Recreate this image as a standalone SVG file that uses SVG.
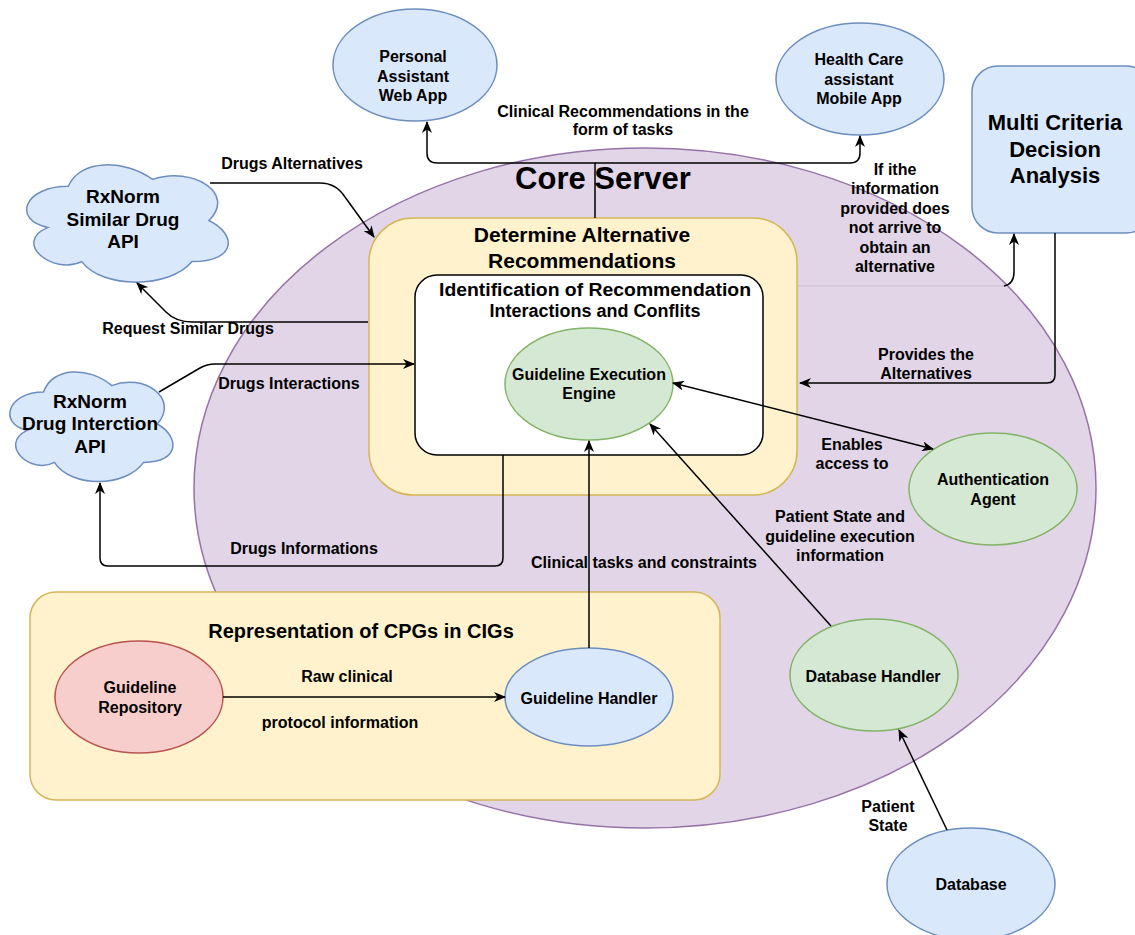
<svg xmlns="http://www.w3.org/2000/svg" width="1135" height="935" viewBox="0 0 1135 935">
  <style>
    .t { font-family: "Liberation Sans", Arial, sans-serif; font-weight: bold; font-size: 16px; text-anchor: middle; fill: #000; }
    .big { font-size: 21px; }
    .cloudtxt { font-size: 19px; }
    .blue { fill: #dae8fc; stroke: #6c8ebf; stroke-width: 1.5; }
    .green { fill: #d5e8d4; stroke: #82b366; stroke-width: 1.5; }
    .red { fill: #f8cecc; stroke: #b85450; stroke-width: 1.5; }
    .yellow { fill: #fff2cc; stroke: #d6b656; stroke-width: 1.5; }
    .purple { fill: #e1d5e7; stroke: #9673a6; stroke-width: 1.5; }
    .edge { fill: none; stroke: #000; stroke-width: 1.5; }
    .arrow { marker-end: url(#head); }
    .both { marker-start: url(#head); marker-end: url(#head); }
    .faint { fill: none; stroke: #cdbfd2; stroke-width: 1; }
  </style>
  <defs>
    <marker id="head" viewBox="0 0 12 10" refX="11" refY="5" markerWidth="12" markerHeight="10" markerUnits="userSpaceOnUse" orient="auto-start-reverse">
      <path d="M0,0 L12,5 L0,10 L3.5,5 Z" fill="#000"/>
    </marker>
  </defs>

  <rect width="1135" height="935" fill="#fff"/>

  <!-- container: core server -->
  <g id="core-server">
    <ellipse class="purple" cx="645" cy="488" rx="451" ry="340"/>
    <text class="t" x="603" y="189" style="font-size:31px">Core Server</text>
  </g>

  <!-- container: representation of CPGs -->
  <g id="representation">
    <rect class="yellow" x="30" y="592" width="690" height="208" rx="26"/>
    <text class="t big" x="361" y="638" style="font-size:20px">Representation of CPGs in CIGs</text>
  </g>

  <!-- container: determine alternative recommendations -->
  <g id="determine-alternatives">
    <rect class="yellow" x="369" y="218" width="428" height="277" rx="44"/>
    <text class="t big" x="582" y="242">Determine Alternative</text>
    <text class="t big" x="582" y="268">Recommendations</text>
  </g>

  <!-- container: identification of interactions -->
  <g id="identification">
    <rect x="415" y="275" width="348" height="180" rx="22" fill="#fff" stroke="#000" stroke-width="1.5"/>
    <text class="t" x="595" y="296" style="font-size:18px" textLength="312" lengthAdjust="spacingAndGlyphs">Identification of Recommendation</text>
    <text class="t" x="595" y="317" style="font-size:18px">Interactions and Conflits</text>
  </g>

  <g id="guideline-execution-engine">
    <ellipse class="green" cx="589" cy="384" rx="84" ry="56"/>
    <text class="t" x="589" y="380">Guideline Execution</text>
    <text class="t" x="589" y="399">Engine</text>
  </g>

  <g id="personal-assistant">
    <ellipse class="blue" cx="415" cy="65" rx="82" ry="56"/>
    <text class="t" x="413" y="62">Personal</text>
    <text class="t" x="413" y="82">Assistant</text>
    <text class="t" x="413" y="101">Web App</text>
  </g>

  <g id="health-care-assistant">
    <ellipse class="blue" cx="860" cy="79" rx="84" ry="56"/>
    <text class="t" x="859" y="65">Health Care</text>
    <text class="t" x="859" y="85">assistant</text>
    <text class="t" x="859" y="104">Mobile App</text>
  </g>

  <g id="multi-criteria">
    <rect class="blue" x="972" y="66" width="180" height="167" rx="26"/>
    <text class="t" x="1055" y="130" style="font-size:22px">Multi Criteria</text>
    <text class="t" x="1055" y="157" style="font-size:22px">Decision</text>
    <text class="t" x="1055" y="183" style="font-size:22px">Analysis</text>
  </g>

  <g id="rxnorm-similar">
    <path class="blue" d="M68.3,186.3 C23.3,186.3 12,220.5 48,227.4 C12,242.4 52.5,275.3 81.8,261.6 C102,289 169.5,289 192,261.6 C237,261.6 237,234.2 208.9,220.5 C237,193.1 192,165.7 152.6,179.4 C124.5,158.9 79.5,158.9 68.3,186.3 Z"/>
    <text class="t cloudtxt" x="123" y="203">RxNorm</text>
    <text class="t cloudtxt" x="123" y="226">Similar Drug</text>
    <text class="t cloudtxt" x="123" y="248">API</text>
  </g>

  <g id="rxnorm-interaction">
    <path class="blue" d="M43.5,392 C7.1,392 -2,424 27.1,430.4 C-2,444.5 30.8,475.2 54.4,462.4 C70.8,488 125.4,488 143.6,462.4 C180,462.4 180,436.8 157.3,424 C180,398.4 143.6,372.8 111.8,385.6 C89,366.4 52.6,366.4 43.5,392 Z"/>
    <text class="t cloudtxt" x="90" y="408">RxNorm</text>
    <text class="t cloudtxt" x="90" y="430">Drug Interction</text>
    <text class="t cloudtxt" x="90" y="453">API</text>
  </g>

  <g id="authentication-agent">
    <ellipse class="green" cx="993" cy="489" rx="84" ry="56"/>
    <text class="t" x="993" y="485">Authentication</text>
    <text class="t" x="993" y="505">Agent</text>
  </g>

  <g id="database-handler">
    <ellipse class="green" cx="874" cy="675" rx="84" ry="56"/>
    <text class="t" x="873" y="682">Database Handler</text>
  </g>

  <g id="guideline-repository">
    <ellipse class="red" cx="139" cy="697" rx="84" ry="56"/>
    <text class="t" x="140" y="693">Guideline</text>
    <text class="t" x="140" y="713">Repository</text>
  </g>

  <g id="guideline-handler">
    <ellipse class="blue" cx="589" cy="697" rx="84" ry="49"/>
    <text class="t" x="589" y="704">Guideline Handler</text>
  </g>

  <g id="database">
    <ellipse class="blue" cx="971" cy="884" rx="84" ry="56"/>
    <text class="t" x="971" y="890">Database</text>
  </g>

  <!-- connectors -->
  <g id="connectors">
    <path class="edge arrow" d="M595,218 V163 H437 Q427,163 427,153 V122"/>
    <path class="edge arrow" d="M595,163 H850 Q860,163 860,153 V136"/>
    <path class="edge arrow" d="M210,183 H320 Q336,183 345,197 L374,237"/>
    <path class="edge arrow" d="M368,322 H192 Q176,322 166,312 L137,283"/>
    <path class="edge arrow" d="M159,392 L200,368 Q207,364 215,364 H414"/>
    <path class="edge arrow" d="M503,455 V558 Q503,566 495,566 H108 Q100,566 100,558 V483"/>
    <path class="edge arrow" d="M589,648 V441"/>
    <path class="edge arrow" d="M831,626 L650,424"/>
    <path class="edge both" d="M673,383 L933,449"/>
    <path class="edge arrow" d="M223,697 H505"/>
    <path class="edge arrow" d="M947,830 L899,730"/>
    <path class="edge arrow" d="M1055,233 V375 Q1055,383 1047,383 H800"/>
    <path class="faint" d="M797,286 H1004"/>
    <path class="edge arrow" d="M1004,286 Q1014,284 1014,272 V234"/>

    <!-- connector labels -->
    <text class="t" x="292" y="169">Drugs Alternatives</text>
    <text class="t" x="188" y="334">Request Similar Drugs</text>
    <text class="t" x="289" y="389">Drugs Interactions</text>
    <text class="t" x="304" y="554">Drugs Informations</text>
    <text class="t" x="623" y="117">Clinical Recommendations in the</text>
    <text class="t" x="623" y="135">form of tasks</text>
    <text class="t" x="895" y="175">If ithe</text>
    <text class="t" x="895" y="194">information</text>
    <text class="t" x="895" y="214">provided does</text>
    <text class="t" x="895" y="233">not arrive to</text>
    <text class="t" x="895" y="253">obtain an</text>
    <text class="t" x="895" y="272">alternative</text>
    <text class="t" x="926" y="360">Provides the</text>
    <text class="t" x="926" y="379">Alternatives</text>
    <text class="t" x="852" y="450">Enables</text>
    <text class="t" x="852" y="469">access to</text>
    <text class="t" x="840" y="522">Patient State and</text>
    <text class="t" x="840" y="542">guideline execution</text>
    <text class="t" x="840" y="561">information</text>
    <text class="t" x="644" y="568">Clinical tasks and constraints</text>
    <text class="t" x="347" y="682">Raw clinical</text>
    <text class="t" x="340" y="728">protocol information</text>
    <text class="t" x="888" y="812">Patient</text>
    <text class="t" x="888" y="831">State</text>
  </g>
</svg>
